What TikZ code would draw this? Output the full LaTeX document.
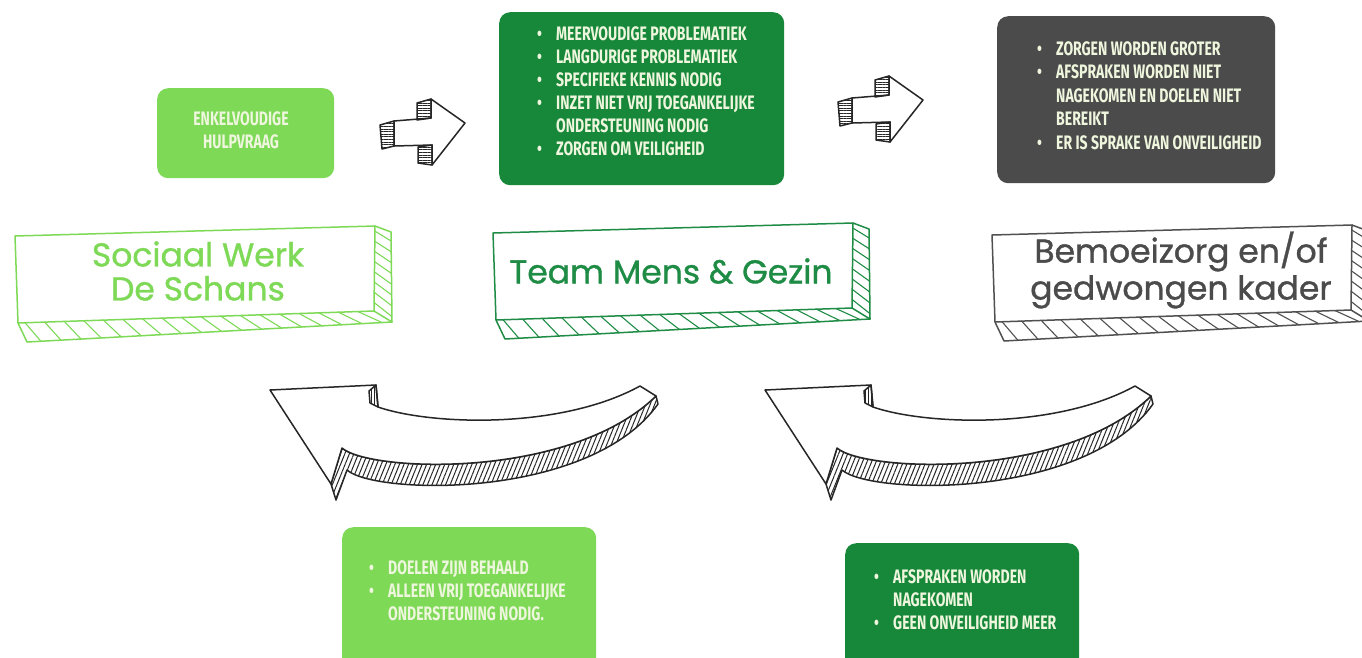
\documentclass[tikz,border=0pt]{standalone}
\usepackage{fontspec}
\setmainfont{Fira Sans}
\newfontfamily\condfont[FakeStretch=0.72]{Fira Sans}
\newfontfamily\bannerfont[FakeBold=1.0]{Poppins}
\usetikzlibrary{patterns.meta,calc}
\definecolor{lgreen}{HTML}{7ED957}
\definecolor{dgreen}{HTML}{17873A}
\definecolor{bgreen}{HTML}{1E8C45}
\definecolor{dgrey}{HTML}{4B4B4B}
\definecolor{bgrey}{HTML}{505050}
\definecolor{cream}{HTML}{EEF6DD}
\definecolor{ink}{HTML}{262626}
\newcommand{\bitem}[1]{\makebox[19pt][l]{\textbullet}#1}
\newcommand{\bcont}[1]{\makebox[19pt][l]{}#1}
\tikzset{
  infobox/.style={rounded corners=11pt, draw=none, inner sep=0pt, anchor=north west},
  listtext/.style={font=\condfont\bfseries\fontsize{19.5}{23}\selectfont, text=cream, inner sep=0pt, anchor=north west, align=left},
  bannertext/.style={font=\bannerfont\fontsize{33}{34}\selectfont, align=center, inner sep=0pt},
  edge/.style={line width=1.5pt, line join=round, line cap=round},
  thinedge/.style={line width=1.1pt, line cap=round},
  banner/.pic={
    \draw[edge, fill=white] (0,10) -- (360,0) -- (359,85) -- (3,97) -- cycle;
    \draw[edge] (360,0) -- (376,6) -- (377,96) -- (359,85);
    \draw[edge] (3,97) -- (12,116) -- (377,96);
    \foreach \t [evaluate=\t as \u using \t+0.018] in {0.02,0.075,...,0.98}
      \draw[thinedge] ($(3,97)!\t!(359,85)$) -- ($(12,116)!\u!(377,96)$);
    \foreach \s [evaluate=\s as \v using \s+0.04] in {0.06,0.18,...,0.95}
      \draw[thinedge] ($(360,0)!\s!(359,85)$) -- ($(376,6)!\v!(377,96)$);
  },
  shade/.style={pattern={Lines[angle=0,distance=2.6pt,line width=1pt]}, pattern color=ink},
  blockarrow/.pic={
    \draw[edge, draw=ink, shade] (0,27) -- (14,23) -- (14,48) -- (2,51) -- cycle;
    \draw[edge, draw=ink, fill=white] (14,23) -- (51,20) -- (51,1) -- (85,25) -- (52,67) -- (52,47) -- (14,48) -- cycle;
    \draw[edge, draw=ink, shade] (37,5) -- (51,1) -- (51,20) -- (37,22) -- cycle;
    \draw[edge, draw=ink, shade] (38,49) -- (52,47) -- (52,67) -- (38,65) -- cycle;
  },
  curvarrow/.pic={
    \draw[edge, draw=ink, pattern={Lines[angle=68,distance=4.2pt,line width=1pt]}, pattern color=ink]
      (331,484) -- (342,448) .. controls (370,472) and (570,480) .. (656,396)
      -- (658,404) .. controls (590,500) and (375,495) .. (347,470) -- (336,500) -- cycle;
    \draw[edge, draw=ink, fill=white]
      (270,390) -- (376,385) -- (378,407) .. controls (430,425) and (560,430) .. (640,386)
      -- (656,396) .. controls (570,480) and (370,472) .. (342,448) -- (331,484) -- cycle;
    \draw[edge, draw=ink, pattern={Lines[angle=90,distance=2.6pt,line width=1pt]}, pattern color=ink]
      (376,385) -- (378,407) -- (370,403) -- (369,391) -- cycle;
  },
}
\begin{document}
\begin{tikzpicture}[x=1pt,y=-1pt]
\useasboundingbox (0,0) rectangle (1362,657);
\begin{scope}
\clip (0,0) rectangle (1362,657);
% info boxes
\node[infobox, fill=lgreen, minimum width=177pt, minimum height=90pt] (boxA) at (157,88) {};
\node[infobox, fill=dgreen, minimum width=285pt, minimum height=173pt] (boxB) at (499,12) {};
\node[infobox, fill=dgrey, minimum width=278pt, minimum height=167pt] (boxC) at (997,16) {};
\node[infobox, fill=lgreen, minimum width=254pt, minimum height=145pt] (boxD) at (342,527) {};
\node[infobox, fill=dgreen, minimum width=234pt, minimum height=130pt] (boxE) at (845,543) {};
% texts
\node[listtext, align=center, anchor=north] (txtA) at (241,111) {ENKELVOUDIGE\\HULPVRAAG};
\node[listtext] (txtB) at (537,26) {\bitem{MEERVOUDIGE PROBLEMATIEK}\\
  \bitem{LANGDURIGE PROBLEMATIEK}\\
  \bitem{SPECIFIEKE KENNIS NODIG}\\
  \bitem{INZET NIET VRIJ TOEGANKELIJKE}\\
  \bcont{ONDERSTEUNING NODIG}\\
  \bitem{ZORGEN OM VEILIGHEID}};
\node[listtext, font=\condfont\bfseries\fontsize{19.5}{23.5}\selectfont] (txtC) at (1037,41) {\bitem{ZORGEN WORDEN GROTER}\\
  \bitem{AFSPRAKEN WORDEN NIET}\\
  \bcont{NAGEKOMEN EN DOELEN NIET}\\
  \bcont{BEREIKT}\\
  \bitem{ER IS SPRAKE VAN ONVEILIGHEID}};
\node[listtext] (txtD) at (369,560) {\bitem{DOELEN ZIJN BEHAALD}\\
  \bitem{ALLEEN VRIJ TOEGANKELIJKE}\\
  \bcont{ONDERSTEUNING NODIG.}};
\node[listtext] (txtE) at (874,569) {\bitem{AFSPRAKEN WORDEN}\\
  \bcont{NAGEKOMEN}\\
  \bitem{GEEN ONVEILIGHEID MEER}};
% straight arrows
\pic at (380,98) {blockarrow};
\pic at (838,75) {blockarrow};
% banners
\pic[color=lgreen] at (15,226) {banner};
\pic[color=bgreen] at (493,223) {banner};
\pic[color=bgrey] at (992,225) {banner};
\node[bannertext, text=lgreen] (bnA) at (198,271) {Sociaal Werk\\De Schans};
\node[bannertext, text=bgreen] (bnB) at (671,271) {Team Mens \& Gezin};
\node[bannertext, text=dgrey, font=\bannerfont\fontsize{33}{37}\selectfont] (bnC) at (1181,270) {Bemoeizorg en/of\\gedwongen kader};
% curved arrows
\pic at (0,0) {curvarrow};
\pic at (495,0) {curvarrow};
\end{scope}
\end{tikzpicture}
\end{document}
